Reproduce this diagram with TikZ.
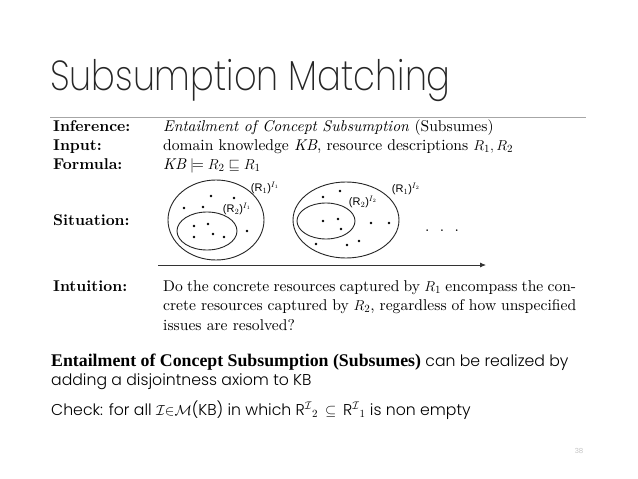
\documentclass[tikz,border=0pt]{standalone}
\usepackage{amsmath}
\usepackage{amssymb}
\usepackage{fontspec}
\usepackage{xcolor}
\usepackage{tikz}
\usetikzlibrary{arrows.meta, positioning}
\setmainfont{lmroman10-regular.otf}[BoldFont=lmroman10-bold.otf, ItalicFont=lmroman10-italic.otf]
\newfontfamily\titlefont{Poppins ExtraLight}
\newfontfamily\bodyfont{Poppins Light}
\newfontfamily\boldserif{Liberation Serif}
\newfontfamily\setfont{Liberation Sans}

\begin{document}
\begin{tikzpicture}[x=1pt, y=-1pt,
    lab/.style={anchor=base west, inner sep=0, font=\fontsize{15.6}{19.5}\selectfont\bfseries},
    txt/.style={anchor=base west, inner sep=0, font=\fontsize{15.6}{19.5}\selectfont},
    setlab/.style={inner sep=0, font=\setfont\fontsize{11}{11}\selectfont},
    body/.style={anchor=base west, inner sep=0, font=\bodyfont\fontsize{15.7}{19}\selectfont}]
    \fill[white] (0,0) rectangle (638,479);
    \useasboundingbox (0,0) rectangle (638,479);
    % title
    \node[anchor=base west, inner sep=0, text=black!85] (title) at (50,90) {\scalebox{0.84}[1]{\titlefont\fontsize{42}{42}\selectfont Subsumption Matching}};
    \draw[gray!70, line width=0.8pt] (50,117) -- (586,117);
    % table
    \node[lab] (inf) at (53,131) {Inference:};
    \node[lab] (inp) at (53,150) {Input:};
    \node[lab] (frm) at (53,169) {Formula:};
    \node[lab] (sit) at (53,225) {Situation:};
    \node[lab] (intu) at (53,291) {Intuition:};
    \node[txt] (infT) at (163,131) {\textit{Entailment of Concept Subsumption} (Subsumes)};
    \node[txt] (inpT) at (163,150) {domain knowledge $\mathit{KB}$, resource descriptions $R_1, R_2$};
    \node[txt] (frmT) at (163,169) {$\mathit{KB} \models R_2 \sqsubseteq R_1$};
    % situation: first interpretation
    \draw[line width=0.9pt, black!85] (216,220) ellipse [x radius=48pt, y radius=40pt];
    \draw[line width=0.9pt, black!85] (207,231) ellipse [x radius=30pt, y radius=19pt];
    \foreach \p in {(184,208),(203,207),(211,196),(234,198),(247,231),
                    (194,226),(208,224),(194,237),(213,234),(224,237)}
        \fill \p circle[radius=1.4pt];
    \node[setlab] (r1a) at (265,188) {(R$_1$)$^{I_1}$};
    \node[setlab] (r2a) at (237,209) {(R$_2$)$^{I_1}$};
    % situation: second interpretation
    \draw[line width=0.9pt, black!85] (346,220) ellipse [x radius=53pt, y radius=38pt];
    \draw[line width=0.9pt, black!85] (326,221) ellipse [x radius=29pt, y radius=18pt];
    \foreach \p in {(323,197),(340,191),(371,223),(389,223),(316,244),(347,245),(359,241),
                    (323,221),(338,219),(341,229)}
        \fill \p circle[radius=1.4pt];
    \node[setlab] (r1b) at (406,189) {(R$_1$)$^{I_2}$};
    \node[setlab] (r2b) at (363,202) {(R$_2$)$^{I_2}$};
    \node[txt] (etc) at (425,231) {.\ \ .\ \ .};
    % arrow
    \coordinate (arrS) at (158,265);
    \coordinate (arrE) at (486,265);
    \draw[-{Latex[length=6pt, width=5pt]}, line width=0.8pt, black!80] (arrS) -- (arrE);
    \node[txt, text width=413pt, align=justify] (intuT) at (163,291)
        {Do the concrete resources captured by $R_1$ encompass the concrete resources captured by $R_2$, regardless of how unspecified issues are resolved?};
    % bottom text
    \node[body] (bot1) at (51,366) {{\boldserif\bfseries\fontsize{17.8}{19}\selectfont Entailment of Concept Subsumption (Subsumes)} can be realized by};
    \node[body] (bot2) at (51,385) {adding a disjointness axiom to KB};
    \node[body] (bot3) at (51,415) {Check: for all $\mathcal{I}{\in}\mathcal{M}$(KB) in which R$^{\mathcal{I}}{}_{2}$ \,$\subseteq$\, R$^{\mathcal{I}}{}_{1}$ is non empty};
    \node[inner sep=0, text=gray!60, font=\bodyfont\fontsize{7}{7}\selectfont] (pg) at (579,451) {38};
\end{tikzpicture}
\end{document}
